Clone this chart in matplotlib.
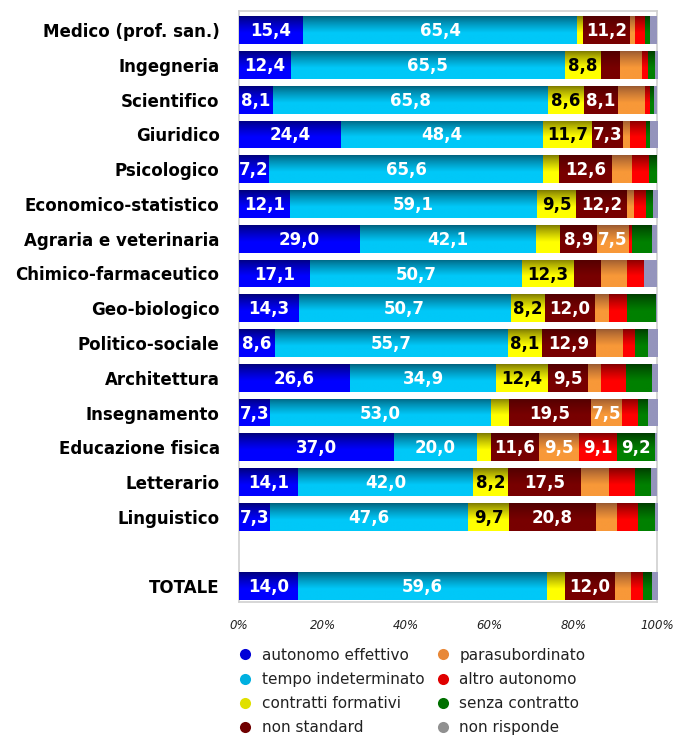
import numpy as np
import matplotlib.pyplot as plt
from matplotlib.colors import to_rgb
from matplotlib.lines import Line2D

categories = ["Medico (prof. san.)", "Ingegneria", "Scientifico", "Giuridico",
              "Psicologico", "Economico-statistico", "Agraria e veterinaria",
              "Chimico-farmaceutico", "Geo-biologico", "Politico-sociale",
              "Architettura", "Insegnamento", "Educazione fisica", "Letterario",
              "Linguistico", "TOTALE"]

series = ["autonomo effettivo", "tempo indeterminato", "contratti formativi",
          "non standard", "parasubordinato", "altro autonomo",
          "senza contratto", "non risponde"]

autonomo_effettivo = [15.4, 12.4, 8.1, 24.4, 7.2, 12.1, 29.0, 17.1, 14.3, 8.6, 26.6, 7.3, 37.0, 14.1, 7.3, 14.0]
tempo_indeterminato = [65.4, 65.5, 65.8, 48.4, 65.6, 59.1, 42.1, 50.7, 50.7, 55.7, 34.9, 53.0, 20.0, 42.0, 47.6, 59.6]
contratti_formativi = [1.5, 8.8, 8.6, 11.7, 3.8, 9.5, 5.7, 12.3, 8.2, 8.1, 12.4, 4.3, 3.2, 8.2, 9.7, 4.4]
non_standard = [11.2, 4.4, 8.1, 7.3, 12.6, 12.2, 8.9, 6.5, 12.0, 12.9, 9.5, 19.5, 11.6, 17.5, 20.8, 12.0]
parasubordinato = [1.3, 5.3, 6.5, 1.7, 4.8, 1.6, 7.5, 6.2, 3.4, 6.6, 3.2, 7.5, 9.5, 6.7, 5.0, 3.8]
altro_autonomo = [2.4, 1.4, 1.2, 3.9, 4.1, 2.9, 0.7, 4.1, 4.3, 2.8, 6.0, 3.9, 9.1, 6.2, 5.1, 2.9]
senza_contratto = [1.1, 1.7, 1.0, 0.9, 1.9, 1.6, 5.0, 0.0, 6.9, 3.1, 6.2, 2.3, 9.2, 3.9, 4.0, 2.1]
non_risponde = [1.5, 0.5, 0.7, 1.7, 0.0, 1.0, 1.1, 3.1, 0.2, 2.2, 1.2, 2.2, 0.4, 1.4, 0.5, 1.2]

data = [autonomo_effettivo, tempo_indeterminato, contratti_formativi, non_standard,
        parasubordinato, altro_autonomo, senza_contratto, non_risponde]

# (top colour, bottom colour) for the vertical gradient of each series
grad_colors = [("#000078", "#0000ff"), ("#00607c", "#00c8f8"), ("#7c7800", "#ffff00"),
               ("#500000", "#780000"), ("#985830", "#f89838"), ("#800000", "#ff0000"),
               ("#003c00", "#008000"), ("#9494bc", "#9494bc")]
text_colors = ["white", "white", "black", "white", "white", "white", "white", "white"]
legend_colors = ["#0000d8", "#00b0e0", "#e0e000", "#700000", "#e88838", "#e00000", "#007000", "#909090"]

# TOTALE is separated from the others by an empty slot
ypos = list(range(len(categories) - 1)) + [len(categories)]

fig = plt.figure(figsize=(6.73, 7.40), dpi=100)
ax = fig.add_axes([239 / 673, 1 - 602 / 740, 418 / 673, 591 / 740])

prof = np.linspace(0, 1, 64)
prof = np.clip(prof / 0.6, 0, 1) ** 0.8

left = np.zeros(len(categories))
for i, vals in enumerate(data):
    bars = ax.barh(ypos, vals, left=left, height=0.8, color=grad_colors[i][1],
                   edgecolor="none", zorder=2)
    c0 = np.array(to_rgb(grad_colors[i][0]))
    c1 = np.array(to_rgb(grad_colors[i][1]))
    img = (c0[None, :] * (1 - prof[:, None]) + c1[None, :] * prof[:, None])[:, None, :]
    for b in bars:
        if b.get_width() <= 0:
            continue
        x0, y0 = b.get_x(), b.get_y()
        im = ax.imshow(img, extent=(x0, x0 + b.get_width(), y0 + b.get_height(), y0),
                       aspect="auto", interpolation="bilinear", zorder=3)
        im.set_clip_path(b)
    for b, v in zip(bars, vals):
        if v >= 7.0:
            ax.text(b.get_x() + b.get_width() / 2, b.get_y() + b.get_height() / 2 + 0.03,
                    f"{v:.1f}".replace(".", ","), ha="center", va="center",
                    color=text_colors[i], fontsize=12, fontweight="bold", zorder=4)
    left = left + np.array(vals)

ax.set_xlim(0, 100)
ax.set_ylim(16.45, -0.55)
ax.set_yticks(ypos)
ax.set_yticklabels(categories, fontsize=12, fontweight="bold")
ax.set_xticks([0, 20, 40, 60, 80, 100])
ax.set_xticklabels(["0%", "20%", "40%", "60%", "80%", "100%"], fontsize=8.5,
                   style="italic", color="#222222")
ax.tick_params(axis="both", length=0)
ax.tick_params(axis="x", pad=12)
ax.tick_params(axis="y", pad=14)
for s in ax.spines.values():
    s.set_color("#d0d0d0")
    s.set_linewidth(1.2)

handles = [Line2D([], [], marker="o", linestyle="none", markersize=8,
                  markerfacecolor=legend_colors[i], markeredgecolor="none")
           for i in range(len(series))]
fig.legend(handles, series, loc="upper left", bbox_to_anchor=(222 / 673, 1 - 634 / 740),
           ncol=2, frameon=False, fontsize=11, handletextpad=0.5, columnspacing=0.6,
           labelspacing=0.6, handlelength=1.2, labelcolor="#222222")

fig.savefig("out.png", dpi=100)
